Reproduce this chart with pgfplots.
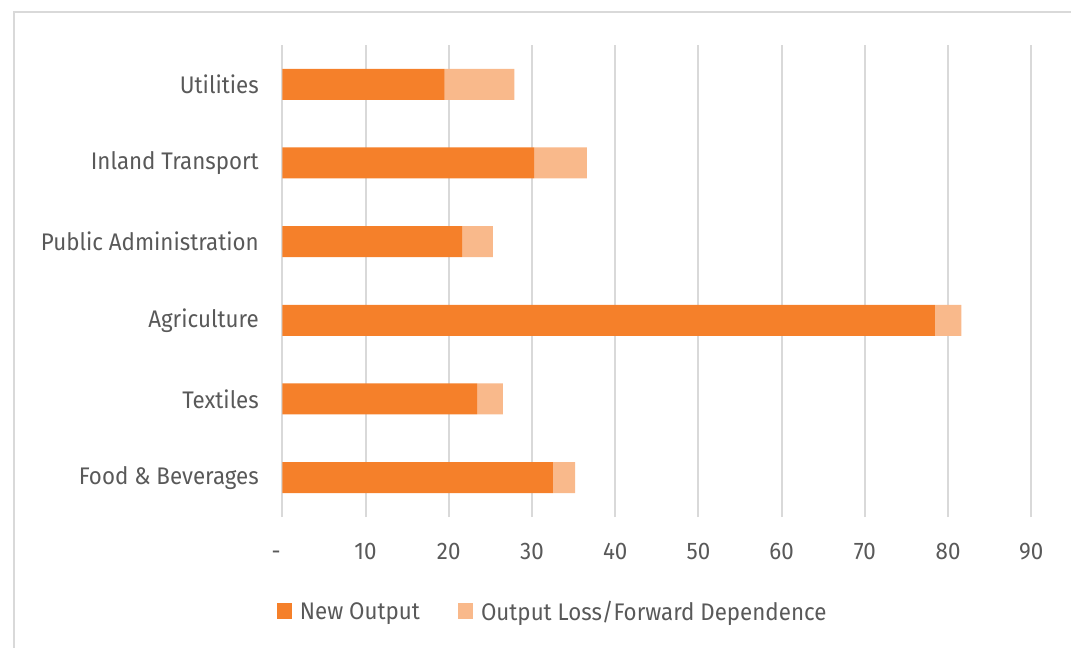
\documentclass[border=0pt]{standalone}
\usepackage{fontspec}
\setmainfont{Fira Sans}[FakeStretch=0.93]
\usepackage{pgfplots}
\pgfplotsset{compat=1.18}
\definecolor{newout}{HTML}{F5802A}
\definecolor{lossfwd}{HTML}{F9B98B}
\definecolor{gridc}{HTML}{D9D9D9}
\definecolor{txt}{HTML}{595959}

% sector, new output, output loss / forward dependence
\pgfplotstableread{
idx new loss
0 32.5 2.7
1 23.4 3.1
2 78.4 3.2
3 21.6 3.7
4 30.25 6.35
5 19.5 8.4
}\sectors

\begin{document}
\begin{tikzpicture}
\path[use as bounding box] (0,0) rectangle (1071bp,648bp);
\draw[gridc, line width=2bp] (14bp,0) -- (14bp,636bp) -- (1071bp,636bp);
\begin{axis}[
  at={(282.3bp,131bp)}, anchor=south west,
  scale only axis, width=749bp, height=472bp,
  xbar stacked, bar width=31bp,
  xmin=0, xmax=90, ymin=-0.5, ymax=5.5,
  axis line style={draw=none},
  xmajorgrids, grid style={gridc, line width=2bp},
  xtick={0,10,...,90},
  xticklabels={{-\hphantom{0}},10,20,30,40,50,60,70,80,90},
  ytick={0,...,5},
  yticklabels={Food \& Beverages,Textiles,Agriculture,Public Administration,Inland Transport,Utilities},
  major tick length=0pt,
  /pgf/number format/assume math mode=true,
  tick label style={font=\fontsize{24bp}{28bp}\selectfont, text=txt},
  xticklabel style={yshift=-22bp, text height=17bp, text depth=0bp},
  yticklabel style={xshift=-20bp},
  legend columns=2,
  legend style={draw=none, fill=none, at={(0.361,-0.2)}, anchor=center,
    font=\fontsize{24bp}{28bp}\selectfont, text=txt,
    /tikz/every odd column/.append style={column sep=6bp},
    /tikz/every even column/.append style={column sep=36bp}},
  legend image code/.code={\fill[#1] (0bp,-8bp) rectangle (15bp,8bp);},
]
\addplot[fill=newout, draw=none] table[x=new, y=idx] {\sectors};
\addplot[fill=lossfwd, draw=none] table[x=loss, y=idx] {\sectors};
\legend{New Output, Output Loss/Forward Dependence}
\end{axis}
\end{tikzpicture}
\end{document}
